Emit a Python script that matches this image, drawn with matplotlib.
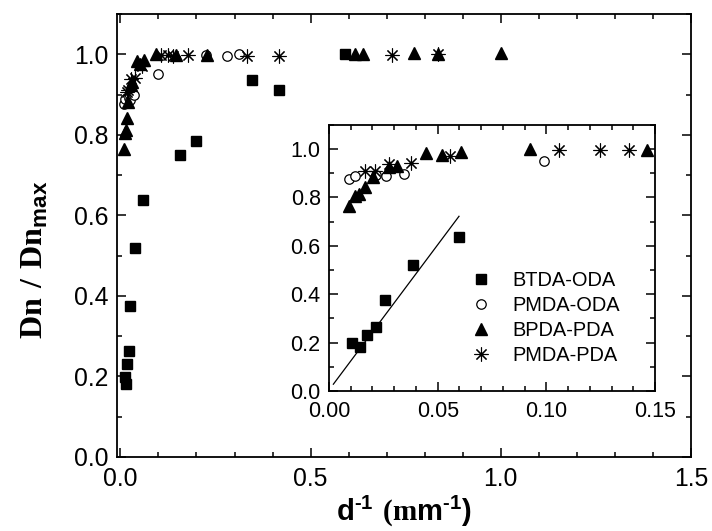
import matplotlib
matplotlib.use('Agg')
import matplotlib.pyplot as plt
import numpy as np

plt.rcParams['font.family'] = ['Liberation Sans', 'DejaVu Sans']
plt.rcParams['mathtext.fontset'] = 'custom'
plt.rcParams['mathtext.sf'] = 'Liberation Sans:bold'
plt.rcParams['mathtext.bf'] = 'Liberation Serif:bold'
plt.rcParams['mathtext.rm'] = 'Liberation Serif'

# data: d^-1 and Dn/Dn_max
btda_oda_x = [0.0108, 0.0144, 0.0175, 0.0215, 0.0259, 0.0386, 0.0597, 0.156, 0.199, 0.346, 0.418, 0.590]
btda_oda_y = [0.198, 0.181, 0.232, 0.264, 0.376, 0.519, 0.638, 0.750, 0.785, 0.935, 0.911, 1.000]

pmda_oda_x = [0.0091, 0.0120, 0.0218, 0.0264, 0.0347, 0.0988, 0.225, 0.279, 0.313]
pmda_oda_y = [0.876, 0.889, 0.892, 0.887, 0.898, 0.950, 0.997, 0.995, 1.000]

bpda_pda_x = [0.0091, 0.0118, 0.0138, 0.0164, 0.0202, 0.0275, 0.0313, 0.0448, 0.0520, 0.0609,
              0.0923, 0.1465, 0.227, 0.616, 0.638, 0.772, 0.834, 1.000]
bpda_pda_y = [0.765, 0.804, 0.813, 0.841, 0.882, 0.924, 0.931, 0.983, 0.975, 0.986,
              1.000, 0.997, 0.997, 1.000, 1.000, 1.003, 1.000, 1.003]

pmda_pda_x = [0.0164, 0.0210, 0.0276, 0.0379, 0.0555, 0.106, 0.1245, 0.138, 0.178, 0.332, 0.418, 0.713, 0.834]
pmda_pda_y = [0.907, 0.910, 0.938, 0.942, 0.970, 0.997, 0.997, 0.996, 0.997, 0.995, 0.995, 0.998, 1.000]

# linear fit shown in the inset
fit_slope = 12.0
fit_icpt = 0.004
fit_range = [0.002, 0.0598]

labels = ['BTDA-ODA', 'PMDA-ODA', 'BPDA-PDA', 'PMDA-PDA']

asterisk = (8, 2, 0)


def draw_points(ax):
    h1, = ax.plot(btda_oda_x, btda_oda_y, 's', color='k', ms=6.7, ls='none')
    h2, = ax.plot(pmda_oda_x, pmda_oda_y, 'o', mfc='white', mec='k', mew=0.9, ms=6.8, ls='none')
    h3, = ax.plot(bpda_pda_x, bpda_pda_y, '^', color='k', ms=8, ls='none')
    h4, = ax.plot(pmda_pda_x, pmda_pda_y, marker=asterisk, color='k', mew=0.8, ms=10, ls='none')
    return [h1, h2, h3, h4]


def style_axes(ax, fs, xmaj, xmin, ymaj, ymin, xpad, ypad):
    for s in ax.spines.values():
        s.set_linewidth(1.3)
    ax.xaxis.set_major_locator(plt.MultipleLocator(xmaj))
    ax.xaxis.set_minor_locator(plt.MultipleLocator(xmin))
    ax.yaxis.set_major_locator(plt.MultipleLocator(ymaj))
    ax.yaxis.set_minor_locator(plt.MultipleLocator(ymin))
    ax.tick_params(which='both', direction='in', top=True, right=True, width=1.1)
    ax.tick_params(which='major', length=6.5)
    ax.tick_params(which='minor', length=3.6)
    ax.tick_params(axis='x', labelsize=fs, pad=xpad)
    ax.tick_params(axis='y', labelsize=fs, pad=ypad)


fig = plt.figure(figsize=(7.12, 5.31), dpi=100)

ax = fig.add_axes([0.1643, 0.1394, 0.8062, 0.8343])
draw_points(ax)
ax.set_xlim(-0.009, 1.5)
ax.set_ylim(0, 1.1)
style_axes(ax, 17.8, 0.5, 0.1, 0.2, 0.1, 7, 6)
ax.xaxis.set_major_formatter(plt.FormatStrFormatter('%.1f'))
ax.yaxis.set_major_formatter(plt.FormatStrFormatter('%.1f'))
ax.set_xlabel('$\\mathsf{d}^{\\mathsf{\u20101}}\\ \\mathbf{(m}\\mathsf{m}^{\\mathsf{\u20101}}\\mathsf{)}$',
              fontsize=21, labelpad=2)
ax.set_ylabel(r'$\mathbf{Dn\ /\ Dn}_{\mathsf{max}}$', fontsize=23)
ax.yaxis.set_label_coords(-0.117, 0.445)

# inset
axi = fig.add_axes([0.4621, 0.2637, 0.4579, 0.5015])
handles = draw_points(axi)
fx = np.array(fit_range)
axi.plot(fx, fit_slope * fx + fit_icpt, color='k', lw=0.9)
axi.set_xlim(0, 0.15)
axi.set_ylim(0, 1.1)
style_axes(axi, 15.5, 0.05, 0.01, 0.2, 0.1, 7, 6)
axi.xaxis.set_major_formatter(plt.FormatStrFormatter('%.2f'))
axi.yaxis.set_major_formatter(plt.FormatStrFormatter('%.1f'))

axi.legend(handles, labels, loc='upper left', bbox_to_anchor=(0.435, 0.45),
           frameon=False, fontsize=14.4, handlelength=1.0, handletextpad=1.1,
           labelspacing=0.3, borderpad=0, borderaxespad=0)

fig.savefig('out.png', dpi=100)
